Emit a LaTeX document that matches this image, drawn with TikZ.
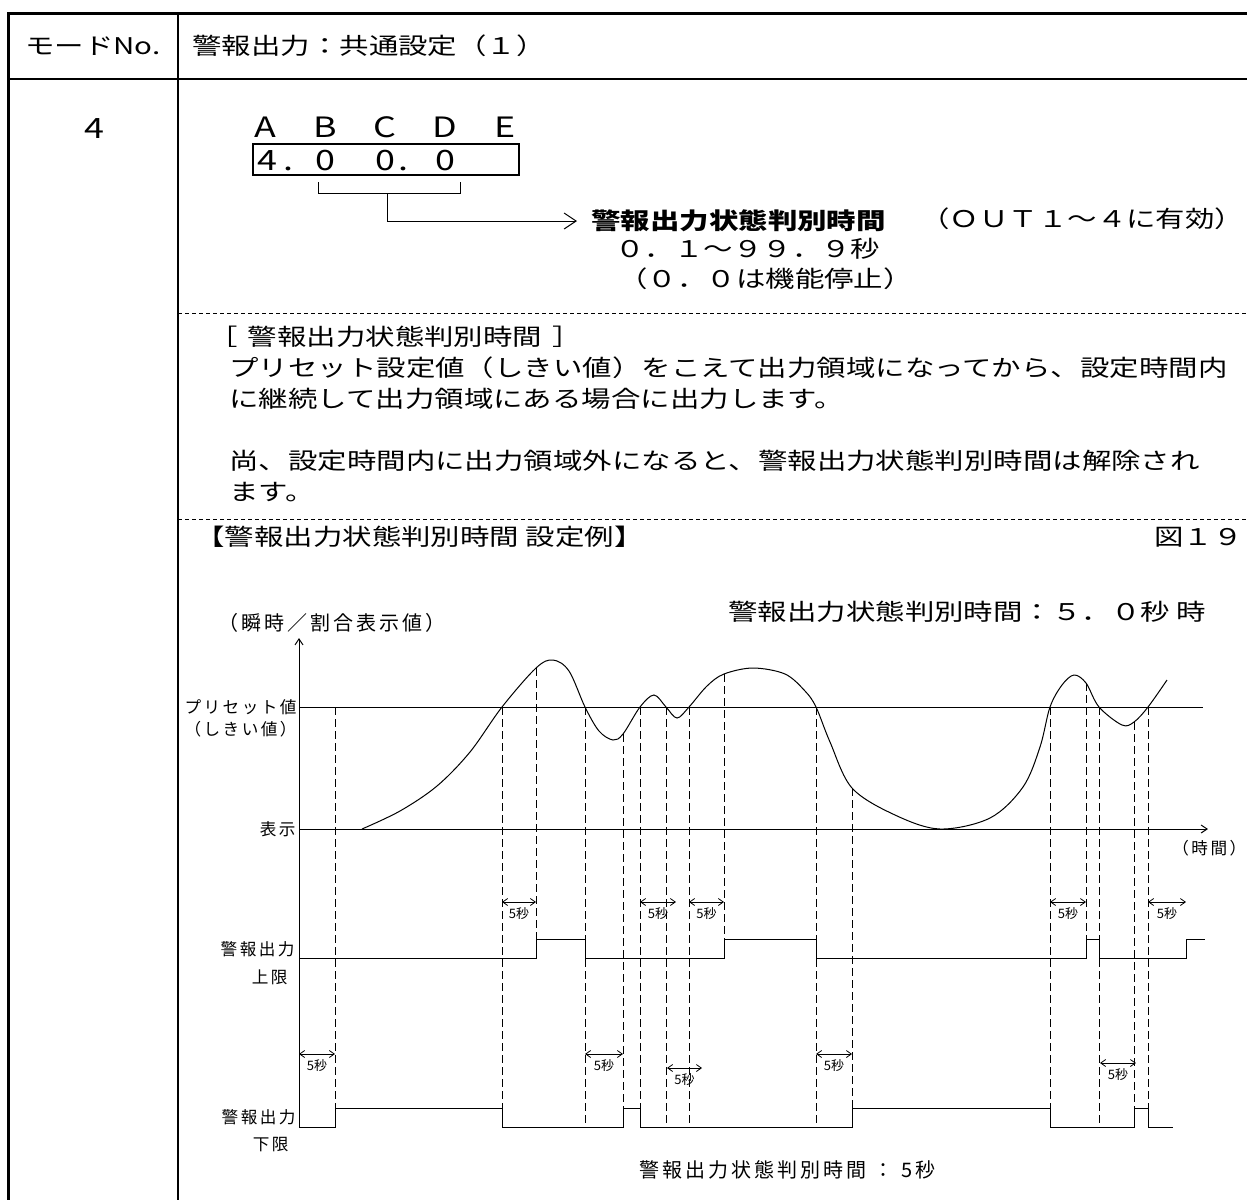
\documentclass[tikz,border=0pt]{standalone}
\usepackage{fontspec}
\setmainfont{Noto Sans CJK JP}
\newfontfamily\jpwide[FakeStretch=1.28]{Noto Sans CJK JP}
\newfontfamily\jpchart[LetterSpace=15]{Noto Sans CJK JP}
\usetikzlibrary{arrows.meta}

\begin{document}
\begin{tikzpicture}[x=0.5pt,y=-0.5pt,
    big/.style={font=\jpwide\fontsize{11.5}{14}\selectfont,inner sep=0pt},
    glyph/.style={font=\jpwide\fontsize{14}{16}\selectfont,inner sep=0pt,anchor=base},
    lbl/.style={font=\jpchart\fontsize{8.3}{10}\selectfont,inner sep=0pt},
    capfont/.style={font=\jpchart\fontsize{10}{12}\selectfont,inner sep=0pt},
    secfont/.style={font=\fontsize{6.5}{7}\selectfont,inner sep=0pt},
    wire/.style={line width=0.5pt},
    guide/.style={line width=0.5pt,dash pattern=on 4pt off 2pt},
    sepline/.style={line width=0.5pt,dash pattern=on 2pt off 1.5pt},
    dimline/.style={line width=0.4pt,{Straight Barb[length=2.5pt,width=3.5pt]}-{Straight Barb[length=2.5pt,width=3.5pt]}},
    tip/.style={-{Straight Barb[length=3pt,width=4pt]}}]
  \useasboundingbox (0,0) rectangle (1247,1200);
  % table
  \draw[line width=1.5pt] (1247,13) -- (8,13) -- (8,1200);
  \draw[line width=1.2pt] (8,79) -- (1247,79);
  \draw[line width=1.2pt] (178,13) -- (178,1200);
  \draw[sepline] (178,313) -- (1247,313);
  \draw[sepline] (178,519) -- (1247,519);
  \node[big] (modeh) at (93,46) {モードNo.};
  \node[big,anchor=west] (titleh) at (192,46) {警報出力：共通設定（１）};
  \node[glyph] (modeno) at (94,138) {4};
  % setting digits
  \foreach \ch [count=\i] in {A,B,C,D,E}
    \node[glyph] (col\i) at (205+60*\i,137) {\ch};
  \draw[line width=1pt] (253,144) rectangle (519,175);
  \foreach \ch/\x [count=\i] in {4/267,./288,0/325,0/385,./403,0/445}
    \node[glyph] (dig\i) at (\x,170) {\ch};
  \coordinate (brL) at (318,182);
  \coordinate (brR) at (460,182);
  \coordinate (brM) at (387,193);
  \draw[wire] (brL) -- (318,193) -- (460,193) -- (brR);
  \node[big,anchor=west] (judge) at (591,221) {\bfseries 警報出力状態判別時間};
  \node[big,anchor=west] (valid) at (920,219) {（ＯＵＴ１～４に有効）};
  \node[big,anchor=west] (range) at (615,249) {０．１～９９．９秒};
  \node[big,anchor=west] (stop) at (618,279) {（０．０は機能停止）};
  \draw[wire,-{Straight Barb[length=6pt,width=8pt]}] (brM) |- ([xshift=-7pt]judge.west);
  % description
  \node[big,anchor=west] (ptitle) at (208,337) {［\hspace{5pt}警報出力状態判別時間\hspace{5pt}］};
  \node[big,anchor=west] (pline1) at (229,368) {プリセット設定値（しきい値）をこえて出力領域になってから、設定時間内};
  \node[big,anchor=west] (pline2) at (229,399) {に継続して出力領域にある場合に出力します。};
  \node[big,anchor=west] (pline3) at (229,461) {尚、設定時間内に出力領域外になると、警報出力状態判別時間は解除され};
  \node[big,anchor=west] (pline4) at (229,492) {ます。};
  \node[big,anchor=west] (exh) at (195,537) {【警報出力状態判別時間 設定例】};
  \node[big,anchor=east] (fig) at (1243,537) {図１９};
  % chart
  \node[big,anchor=west] (cond) at (728,612) {警報出力状態判別時間：５．０秒 時};
  \node[capfont,anchor=west] (yname) at (218,623) {（瞬時／割合表示値）};
  \node[lbl,anchor=east] (preset) at (297,707) {プリセット値};
  \node[lbl,anchor=east] (thresh) at (297,729) {（しきい値）};
  \node[lbl,anchor=east] (disp) at (296,829) {表示};
  \node[lbl,anchor=west] (tname) at (1172,848) {（時間）};
  \node[lbl,anchor=east] (upname) at (295,949) {警報出力};
  \node[lbl,anchor=east] (uplim) at (288,977) {上限};
  \node[lbl,anchor=east] (loname) at (296,1117) {警報出力};
  \node[lbl,anchor=east] (lolim) at (289,1145) {下限};
  \node[capfont,anchor=west] (note) at (639,1170) {警報出力状態判別時間 ： 5秒};
  \coordinate (org) at (299,1127);
  \draw[wire,tip] (org) -- (299,638);
  \draw[wire,tip] (299,829) -- (1208,829);
  \draw[wire] (299,707) -- (1203,707);
  \draw[wire] plot[smooth,tension=0.55] coordinates {(362,829) (400,811) (437,786)
    (470,752) (502,707) (536,668) (553,660) (569,671) (585,707) (599,731) (613,740)
    (623,734) (640,707) (654,695) (666,707) (677,718) (689,707) (707,686) (724,674)
    (753,668) (785,674) (805,691) (816,707) (830,742) (852,788) (895,815) (940,829)
    (990,818) (1023,787) (1040,747) (1050,707) (1062,685) (1074,675) (1086,683)
    (1099,707) (1122,725) (1134,722) (1148,707) (1167,680)};
  \foreach \x/\ya/\yb in {335/707/1108,502/707/1127,536/668/939,585/707/1127,
      623/734/1108,640/707/1127,666/707/1127,689/707/1127,724/674/939,816/707/1127,
      852/788/1108,1050/707/1127,1086/683/939,1099/707/1127,1134/722/1108,1148/707/1127}
    \draw[guide] (\x,\ya) -- (\x,\yb);
  \draw[wire] (299,958) -- (536,958) -- (536,939) -- (585,939) -- (585,958) -- (724,958)
    -- (724,939) -- (816,939) -- (816,958) -- (1086,958) -- (1086,939) -- (1099,939)
    -- (1099,958) -- (1186,958) -- (1186,939) -- (1205,939);
  \draw[wire] (org) -- (335,1127) -- (335,1108) -- (502,1108) -- (502,1127) -- (623,1127)
    -- (623,1108) -- (640,1108) -- (640,1127) -- (852,1127) -- (852,1108) -- (1050,1108)
    -- (1050,1127) -- (1134,1127) -- (1134,1108) -- (1148,1108) -- (1148,1127) -- (1173,1127);
  \foreach \xa/\xb/\y [count=\i] in {502/536/902,640/676/902,689/724/902,1050/1086/902,
      1148/1186/902,299/335/1054,585/623/1054,667/702/1068,816/852/1054,1100/1136/1063}
    \draw[dimline] (\xa,\y) -- node[secfont,below=2.5pt] (sec\i) {5秒} (\xb,\y);
\end{tikzpicture}
\end{document}
